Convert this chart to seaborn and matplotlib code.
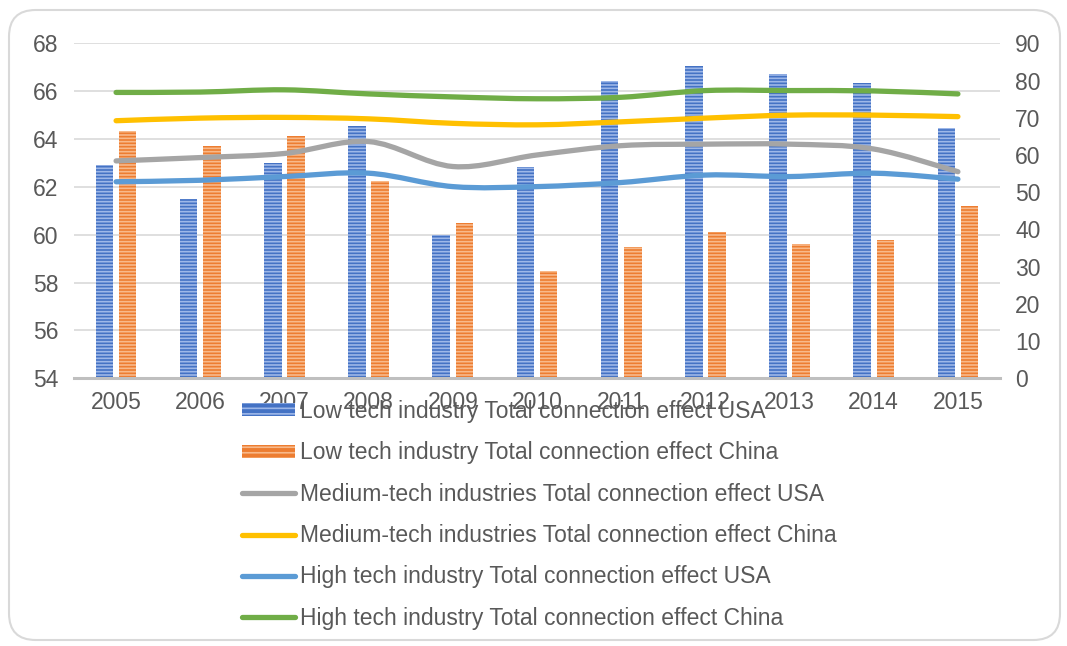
import numpy as np
import pandas as pd
import matplotlib
matplotlib.use("Agg")
import matplotlib.pyplot as plt
import seaborn as sns
from matplotlib.path import Path
from matplotlib.patches import PathPatch, FancyBboxPatch, Patch
from matplotlib.lines import Line2D

# ---------------- data ----------------
years = ["2005", "2006", "2007", "2008", "2009", "2010",
         "2011", "2012", "2013", "2014", "2015"]
low_usa = [62.9, 61.5, 63.0, 64.55, 60.0, 62.82, 66.42, 67.06, 66.7, 66.33, 64.45]
low_china = [64.33, 63.7, 64.13, 62.25, 60.48, 58.5, 59.5, 60.1, 59.61, 59.78, 61.21]
med_usa = [58.4, 59.3, 60.4, 63.6, 56.9, 60.0, 62.5, 62.9, 62.9, 61.6, 55.5]
med_china = [69.2, 69.9, 70.1, 69.7, 68.5, 68.1, 68.9, 69.9, 70.7, 70.7, 70.3]
high_usa = [52.8, 53.2, 54.2, 55.1, 51.5, 51.5, 52.6, 54.6, 54.2, 55.1, 53.5]
high_china = [76.8, 76.9, 77.5, 76.4, 75.6, 75.1, 75.5, 77.3, 77.3, 77.2, 76.4]

bar_labels = ["Low tech industry Total connection effect USA",
              "Low tech industry Total connection effect China"]
line_labels = ["Medium-tech industries Total connection effect USA",
               "Medium-tech industries Total connection effect China",
               "High tech industry Total connection effect USA",
               "High tech industry Total connection effect China"]

bar_colors = ["#4472C4", "#ED7D31"]
hatch_colors = ["#9DB7E8", "#F8B98A"]
line_colors = ["#A5A5A5", "#FFC000", "#5B9BD5", "#70AD47"]

# ---------------- figure ----------------
sns.set_theme(style="white")
plt.rcParams["font.family"] = ["Liberation Sans", "DejaVu Sans"]
plt.rcParams["hatch.linewidth"] = 1.2

W, H = 1067, 646
FS = 16.5
fig = plt.figure(figsize=(W / 100, H / 100), dpi=100)
fig.patch.set_facecolor("white")

# rounded outer frame
frame = FancyBboxPatch((9 / W, 6 / H), (1060 - 9) / W, (640 - 10) / H,
                       boxstyle="round,pad=0,rounding_size=0.025",
                       transform=fig.transFigure, facecolor="none",
                       edgecolor="#D9D9D9", linewidth=1.5, mutation_aspect=W / H)
fig.patches.append(frame)

left, right = 74 / W, 1000 / W
top, bottom = 43.3 / H, 378.3 / H
ax = fig.add_axes([left, 1 - bottom, right - left, bottom - top])

df = pd.DataFrame({
    "Year": years * 2,
    "value": low_usa + low_china,
    "series": [bar_labels[0]] * len(years) + [bar_labels[1]] * len(years),
})
sns.barplot(data=df, x="Year", y="value", hue="series", palette=bar_colors,
            width=0.55, gap=0.24, ax=ax, legend=False, saturation=1)

for cont, hc in zip(ax.containers, hatch_colors):
    for b in cont:
        b.set_hatch("-----")
        b.set_edgecolor(hc)
        b.set_linewidth(0)

ax.set_ylim(54, 68)
ax.set_yticks(np.arange(54, 69, 2))
ax.set_xlim(-0.5, len(years) - 0.5)
ax.set_xlabel("")
ax.set_ylabel("")
ax.grid(axis="y", color="#D9D9D9", linewidth=1.2)
ax.set_axisbelow(True)
for s in ["top", "left", "right"]:
    ax.spines[s].set_visible(False)
ax.spines["bottom"].set_color("#BFBFBF")
ax.spines["bottom"].set_linewidth(2.2)
ax.tick_params(axis="both", length=0, labelsize=FS, colors="#595959")
ax.tick_params(axis="y", pad=11)
ax.tick_params(axis="x", pad=9)

# secondary axis for lines
ax2 = ax.twinx()
ax2.set_ylim(0, 90)
ax2.set_yticks(np.arange(0, 91, 10))
for s in ax2.spines.values():
    s.set_visible(False)
ax2.tick_params(axis="y", length=0, labelsize=FS, colors="#595959", pad=11)


def smooth_path(xs, ys, t=1 / 6):
    pts = np.column_stack([xs, ys]).astype(float)
    n = len(pts)
    verts = [pts[0]]
    codes = [Path.MOVETO]
    for i in range(n - 1):
        p0 = pts[i - 1] if i > 0 else pts[i]
        p1 = pts[i]
        p2 = pts[i + 1]
        p3 = pts[i + 2] if i + 2 < n else pts[i + 1]
        c1 = p1 + (p2 - p0) * t
        c2 = p2 - (p3 - p1) * t
        verts += [c1, c2, p2]
        codes += [Path.CURVE4] * 3
    return Path(verts, codes)


LW = 3.8
xs = np.arange(len(years))
for vals, col in zip([med_usa, med_china, high_usa, high_china], line_colors):
    patch = PathPatch(smooth_path(xs, vals), facecolor="none", edgecolor=col,
                      linewidth=LW, capstyle="round", joinstyle="round")
    ax2.add_patch(patch)

# legend
handles = []
for bc, hc in zip(bar_colors, hatch_colors):
    handles.append(Patch(facecolor=bc, edgecolor=hc, hatch="---", linewidth=0))
for col in line_colors:
    handles.append(Line2D([0], [0], color=col, linewidth=LW, solid_capstyle="round"))
labels = bar_labels + line_labels
leg = fig.legend(handles, labels, loc="upper left",
                 bbox_to_anchor=(242 / W, 1 - 400 / H),
                 frameon=False, fontsize=FS, handlelength=2.3,
                 handleheight=0.5, handletextpad=0.22, labelspacing=0.8,
                 borderpad=0, borderaxespad=0)
for t in leg.get_texts():
    t.set_color("#595959")

fig.savefig("out.png", dpi=100, facecolor="white")
